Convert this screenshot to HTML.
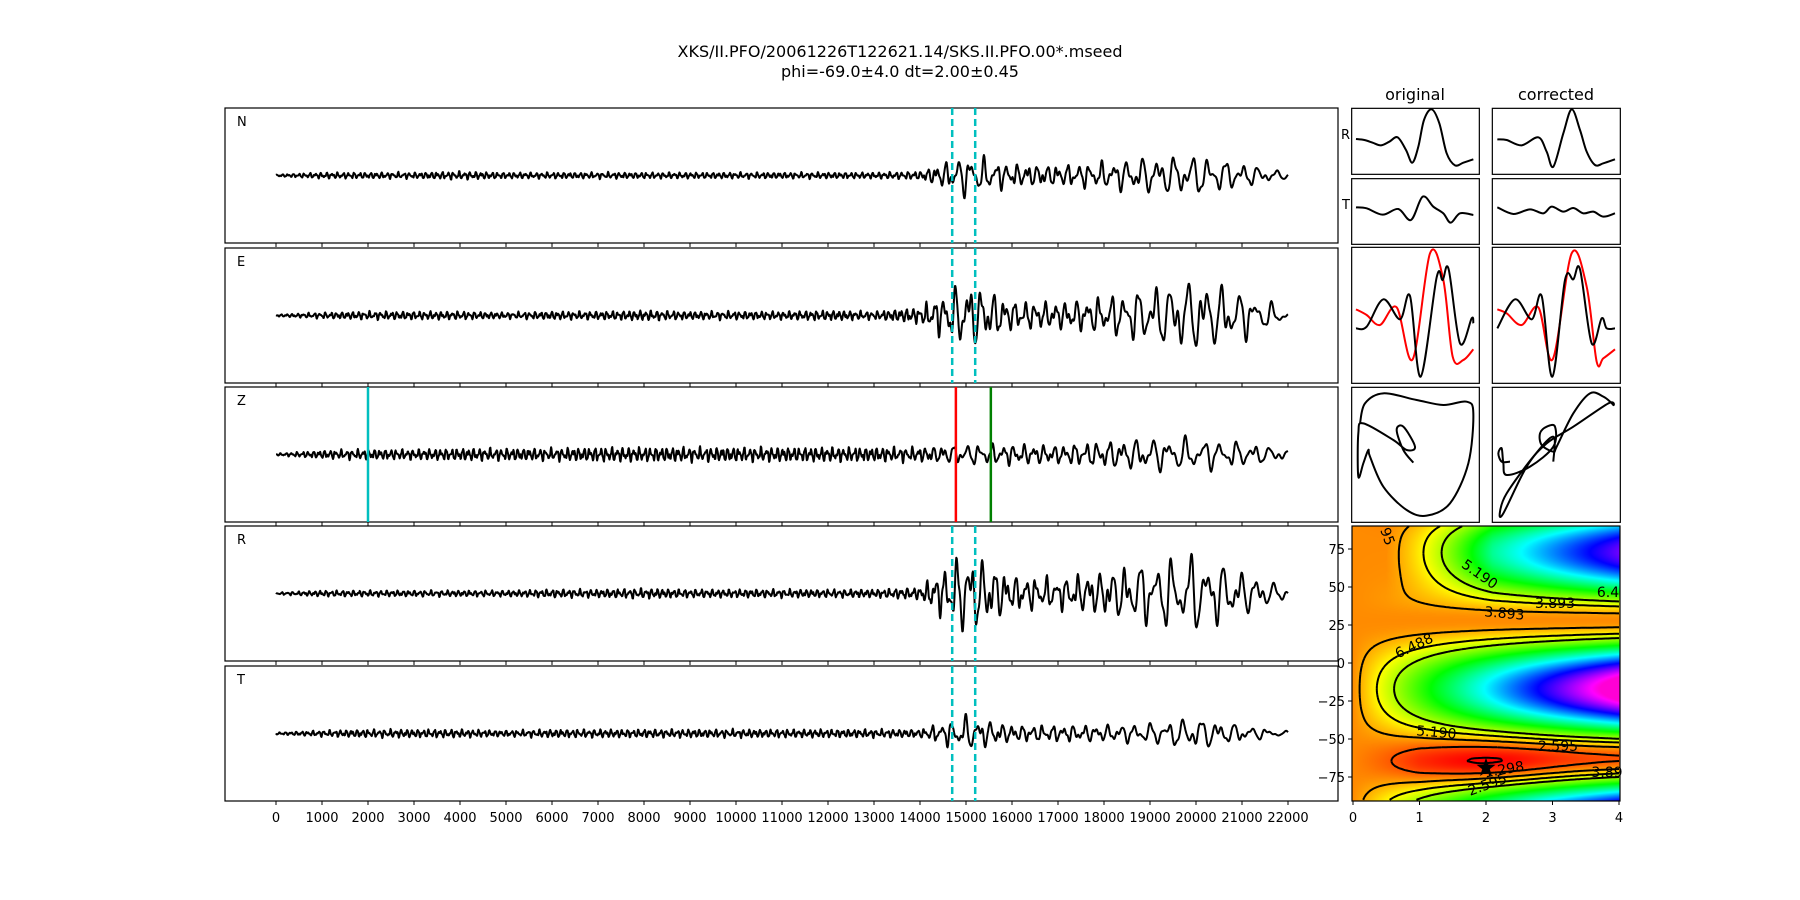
<!DOCTYPE html>
<html><head><meta charset="utf-8">
<style>
html,body{margin:0;padding:0;background:#fff;}
#wrap{position:relative;width:1800px;height:900px;overflow:hidden;font-family:"DejaVu Sans","Liberation Sans",sans-serif;}
svg{position:absolute;left:0;top:0;}
canvas{position:absolute;left:1352px;top:526px;}
</style></head>
<body>
<div id="wrap">
<canvas id="heat" width="268" height="275"></canvas>
<svg id="svg" width="1800" height="900" xmlns="http://www.w3.org/2000/svg">
<text x="900" y="57" text-anchor="middle" font-size="16">XKS/II.PFO/20061226T122621.14/SKS.II.PFO.00*.mseed</text>
<text x="900" y="77" text-anchor="middle" font-size="16">phi=-69.0±4.0 dt=2.00±0.45</text>
<text x="1415" y="100" text-anchor="middle" font-size="16">original</text>
<text x="1556" y="100" text-anchor="middle" font-size="16">corrected</text>
<g id="main"></g>
<g id="small"></g>
<g id="heatax"></g>
</svg>
</div>
<script>
// ---------- main trace data ----------
const traceNames = ["N","E","Z","R","T"];
const envN = [1,3,3,3,4,3,3,3,3,3,3,3,3,3,4,20,11,10,13,18,20,12,3];
const envE = [1,3,4,4,4,3,4,4,5,4,4,4,5,4,8,34,14,13,18,28,36,24,5];
const envZ = [1,4,5,5,6,6,6,7,7,7,7,7,7,7,7,10,10,9,13,16,16,12,5];
const envR = [1,3,3,3,3,3,4,4,5,4,4,4,4,4,6,42,17,15,22,32,38,22,5];
const envT = [1,3,4,4,4,3,4,4,4,4,4,4,4,4,4,17,8,8,8,10,16,8,2];
const periods = [120,120,120,120,120,120,120,120,120,120,120,120,120,120,140,300,220,220,260,350,380,350,400];
const xTicks = [0,1000,2000,3000,4000,5000,6000,7000,8000,9000,10000,11000,12000,13000,14000,15000,16000,17000,18000,19000,20000,21000,22000];
const windowLines = [14700,15200];
const zPicks = [{t:2000,c:"#00bfbf"},{t:14780,c:"#ff0000"},{t:15540,c:"#008000"}];

const NS="http://www.w3.org/2000/svg";
function mk(tag,attrs,parent){const e=document.createElementNS(NS,tag);for(const k in attrs)e.setAttribute(k,attrs[k]);parent.appendChild(e);return e;}
const X0=225,X1=1338;
const rowTops=[108,248,387,526,666], rowH=135;
const xs=v=>276+v*0.046;
const envs=[envN,envE,envZ,envR,envT];
const main=document.getElementById('main');
const phaseOff=[0,1.3,2.1,0.7,2.9];
traceNames.forEach((nm,i)=>{
  const top=rowTops[i], cy=top+rowH/2;
  const g=mk('g',{},main);
  
  
  const r=mk('rect',{x:X0,y:top,width:X1-X0,height:rowH,fill:'none',stroke:'#000','stroke-width':1.2},g);
  
  
  const lab=mk('text',{x:237,y:top+18,'font-size':13},g); lab.textContent=nm;
  
  
  xTicks.forEach(t=>{mk('line',{x1:xs(t),x2:xs(t),y1:top+rowH,y2:top+rowH+4,stroke:'#000','stroke-width':1},g);});
  const env=envs[i]; let ph=phaseOff[i], d='';
  for(let t=0;t<=22000;t+=10){
    const k=Math.min(21,Math.floor(t/1000)), f=t/1000-k;
    const a=env[k]*(1-f)+env[k+1]*f;
    const P=periods[k]*(1-f)+periods[k+1]*f;
    ph+=2*Math.PI*10/P;
    const v=a*(0.6*Math.sin(ph)+0.35*Math.sin(1.63*ph+phaseOff[i])+0.3*Math.sin(0.37*ph+2*phaseOff[i])*Math.sin(2.71*ph));
    d+=(t?'L':'M')+xs(t).toFixed(1)+' '+(cy-v).toFixed(1);
  }
  const p=mk('path',{d:d,fill:'none',stroke:'#000','stroke-width':2,'stroke-linejoin':'round'},g);
  
  
  if(nm==='Z'){
    zPicks.forEach(pk=>{const l=mk('line',{x1:xs(pk.t),x2:xs(pk.t),y1:top,y2:top+rowH,stroke:pk.c,'stroke-width':2.5},g);
      
      });
  } else {
    windowLines.forEach(w=>{const l=mk('line',{x1:xs(w),x2:xs(w),y1:top,y2:top+rowH,stroke:'#00bfbf','stroke-width':2.5,'stroke-dasharray':'7,4'},g);
      
      });
  }
});
xTicks.forEach(t=>{const tx=mk('text',{x:xs(t),y:822,'text-anchor':'middle','font-size':13},main);tx.textContent=t;
  
  });

// ---------- small panels (coords in 3x zoom space, origin 1300,80) ----------
const rOrigX=[168,193,218,243,268,293,318,337,355,372,395,418,440,465,490,520];
const rOrigY=[177,180,188,196,185,172,210,248,200,120,88,130,220,256,248,238];
const rCorrX=[592,620,665,715,740,760,790,815,840,860,885,910,945];
const rCorrY=[178,180,196,172,215,260,160,88,150,215,255,250,238];
const tOrigX=[168,200,248,295,333,368,400,430,452,480,520];
const tOrigY=[382,385,404,387,420,350,380,400,428,400,405];
const tCorrX=[592,640,690,730,755,790,820,850,880,910,945];
const tCorrY=[382,402,388,400,380,395,384,400,395,410,400];
const eOrigRedX=[168,200,240,290,338,390,430,458,490,520];
const eOrigRedY=[688,705,735,682,838,520,600,830,840,808];
const eOrigBlkX=[168,200,250,300,330,362,410,428,446,480,515,520];
const eOrigBlkY=[745,740,658,718,648,890,592,600,568,790,715,730];
const eCorrRedX=[592,620,665,715,758,815,860,890,910,945];
const eCorrRedY=[688,700,735,682,838,520,620,845,835,808];
const eCorrBlkX=[592,645,695,725,757,795,820,840,875,905,920,945];
const eCorrBlkY=[745,658,718,648,890,600,598,568,790,715,745,745];
const pmOrigX=[340,310,290,310,345,320,280,190,175,175,190,205,210,250,320,380,450,505,520,500,430,350,250,195,180];
const pmOrigY=[1148,1110,1050,1040,1100,1110,1080,1030,1060,1190,1150,1110,1130,1220,1290,1307,1270,1150,1000,965,975,960,940,970,1030];
const pmCorrX=[630,605,595,605,610,620,690,760,765,740,720,725,760,770,820,870,910,940,925,820,740,680,610,600,620,700,760,760];
const pmCorrY=[1145,1145,1120,1105,1150,1185,1160,1100,1040,1040,1060,1095,1115,1100,1000,940,950,975,970,1040,1090,1160,1300,1295,1240,1130,1070,1145];

const small=document.getElementById('small');
const sg=mk('g',{transform:'translate(1300,80) scale(0.333333)'},small);
function box(x0,y0,x1,y1,name){const r=mk('rect',{x:x0,y:y0,width:x1-x0,height:y1-y0,fill:'none',stroke:'#000','stroke-width':3.6},sg);
  
  }
function smooth(X,Y){let d='M'+X[0]+' '+Y[0];
  for(let i=0;i<X.length-1;i++){const x0=X[Math.max(0,i-1)],y0=Y[Math.max(0,i-1)],x1=X[i],y1=Y[i],x2=X[i+1],y2=Y[i+1],x3=X[Math.min(X.length-1,i+2)],y3=Y[Math.min(X.length-1,i+2)];
    d+=' C'+(x1+(x2-x0)/6).toFixed(1)+' '+(y1+(y2-y0)/6).toFixed(1)+' '+(x2-(x3-x1)/6).toFixed(1)+' '+(y2-(y3-y1)/6).toFixed(1)+' '+x2+' '+y2;}
  return d;}
function curve(X,Y,col,name){const p=mk('path',{d:smooth(X,Y),fill:'none',stroke:col,'stroke-width':6,'stroke-linejoin':'round'},sg);
  
  }
const ox0=155,ox1=538,cx0=577,cx1=961;
[[85,283],[296,493],[502,910],[922,1327]].forEach((r,i)=>{box(ox0,r[0],ox1,r[1],'original-box-'+i);box(cx0,r[0],cx1,r[1],'corrected-box-'+i);});
curve(rOrigX,rOrigY,'#000','original-r');
curve(rCorrX,rCorrY,'#000','corrected-r');
curve(tOrigX,tOrigY,'#000','original-t');
curve(tCorrX,tCorrY,'#000','corrected-t');
curve(eOrigRedX,eOrigRedY,'#ff0000','original-fast');
curve(eOrigBlkX,eOrigBlkY,'#000','original-slow');
curve(eCorrRedX,eCorrRedY,'#ff0000','corrected-fast');
curve(eCorrBlkX,eCorrBlkY,'#000','corrected-slow');
curve(pmOrigX,pmOrigY,'#000','original-particle-motion');
curve(pmCorrX,pmCorrY,'#000','corrected-particle-motion');
const lr=mk('text',{x:1350,y:139,'text-anchor':'end','font-size':13},small);lr.textContent='R';


const lt=mk('text',{x:1350,y:209,'text-anchor':'end','font-size':13},small);lt.textContent='T';



// ---------- energy grid ----------
const contourLevels=[1.298,2.595,3.893,5.190,6.488];
const dtTicks=[0,1,2,3,4];
const phiTicks=[75,50,25,0,-25,-50,-75];
const bestPhi=-69, bestDt=2;
const vmin=1.2, vmax=22;
const hx=dt=>1353+dt*66.5, hy=p=>663-p*1.52;
function energy(dt,phi){
  const rad=Math.PI/180;
  let dp=phi+67; dp=((dp+90)%180+180)%180-90;
  const w=Math.exp(-(dp/16)*(dp/16));
  const s=Math.pow(Math.sin(2*(phi+62)*rad),2);
  const u=1/(1+Math.exp(-(phi-38)/6));
  const h=Math.max(0,Math.min(1,(dt-0.5)/1.6));
  const f=(1-u)+u*0.78*Math.pow(h,0.8);
  return 3.4-0.9*w*Math.min(1,dt/1.0)-1.4*w*Math.exp(-(dt-2)*(dt-2)/1.4)+5*dt*f*s;
}
function cmap(n){n=Math.max(0,Math.min(1,n));return 'hsl('+(n*310).toFixed(1)+',100%,50%)';}
const cv=document.getElementById('heat'),ctx=cv.getContext('2d');
for(let py=0;py<275;py+=1){for(let px=0;px<268;px+=1){
  const dt=(1352+px+0.5-1353)/66.5, phi=(663-(526+py+0.5))/1.52;
  ctx.fillStyle=cmap((energy(dt,phi)-vmin)/(vmax-vmin));ctx.fillRect(px,py,1,1);}}
const ha=document.getElementById('heatax');
const NX=121,NY=121;
const G=[];for(let j=0;j<NY;j++){G.push([]);for(let i=0;i<NX;i++)G[j].push(energy(4*i/(NX-1),-90+180*j/(NY-1)));}
contourLevels.forEach(L=>{
  let d='';
  for(let j=0;j<NY-1;j++)for(let i=0;i<NX-1;i++){
    const v=[G[j][i],G[j][i+1],G[j+1][i+1],G[j+1][i]];
    const P=[[i,j],[i+1,j],[i+1,j+1],[i,j+1]];
    const pts=[];
    for(let e=0;e<4;e++){const a=v[e],b=v[(e+1)%4];if((a<L)!==(b<L)){const t=(L-a)/(b-a);const A=P[e],B=P[(e+1)%4];pts.push([A[0]+(B[0]-A[0])*t,A[1]+(B[1]-A[1])*t]);}}
    const cvt=p=>[hx(4*p[0]/(NX-1)),hy(-90+180*p[1]/(NY-1))];
    for(let k=0;k+1<pts.length;k+=2){const a=cvt(pts[k]),b=cvt(pts[k+1]);d+='M'+a[0].toFixed(1)+' '+a[1].toFixed(1)+'L'+b[0].toFixed(1)+' '+b[1].toFixed(1);}
  }
  const p=mk('path',{d:d,fill:'none',stroke:'#000','stroke-width':2},ha);
  
  
});
[["6.488",1416,650,-25],["5.190",1436,737,5],["5.190",1477,578,35],["6.4",1608,597,0],["3.893",1555,608,0],["3.893",1504,618,5],["2.595",1558,751,0],["1.298",1505,774,-10],["2.595",1489,789,-20],["95",1383,538,70],["3.89",1607,777,0]].forEach((l,i)=>{
  const t=mk('text',{x:l[1],y:l[2],'font-size':14,'text-anchor':'middle',transform:'rotate('+l[3]+' '+l[1]+' '+l[2]+')'},ha);
  t.textContent=l[0];
  
  
});
const fr=mk('rect',{x:1352,y:526,width:268,height:275,fill:'none',stroke:'#000','stroke-width':1.2},ha);


(function(){const cx=hx(bestDt),cy=hy(bestPhi),R=10,r=4;let d='';for(let k=0;k<10;k++){const a=-Math.PI/2+k*Math.PI/5,rr=k%2?r:R;d+=(k?'L':'M')+(cx+rr*Math.cos(a)).toFixed(1)+' '+(cy+rr*Math.sin(a)).toFixed(1);}
  const s=mk('path',{d:d+'Z',fill:'#000'},ha);
  
  })();
dtTicks.forEach(t=>{mk('line',{x1:hx(t),x2:hx(t),y1:801,y2:805,stroke:'#000'},ha);
  const tx=mk('text',{x:hx(t),y:822,'text-anchor':'middle','font-size':13},ha);tx.textContent=t;
  
  });
phiTicks.forEach(t=>{mk('line',{x1:1348,x2:1352,y1:hy(t),y2:hy(t),stroke:'#000'},ha);
  const tx=mk('text',{x:1345,y:hy(t)+5,'text-anchor':'end','font-size':13},ha);tx.textContent=t<0?'\u2212'+(-t):t;
  
  });
</script>
</body></html>
